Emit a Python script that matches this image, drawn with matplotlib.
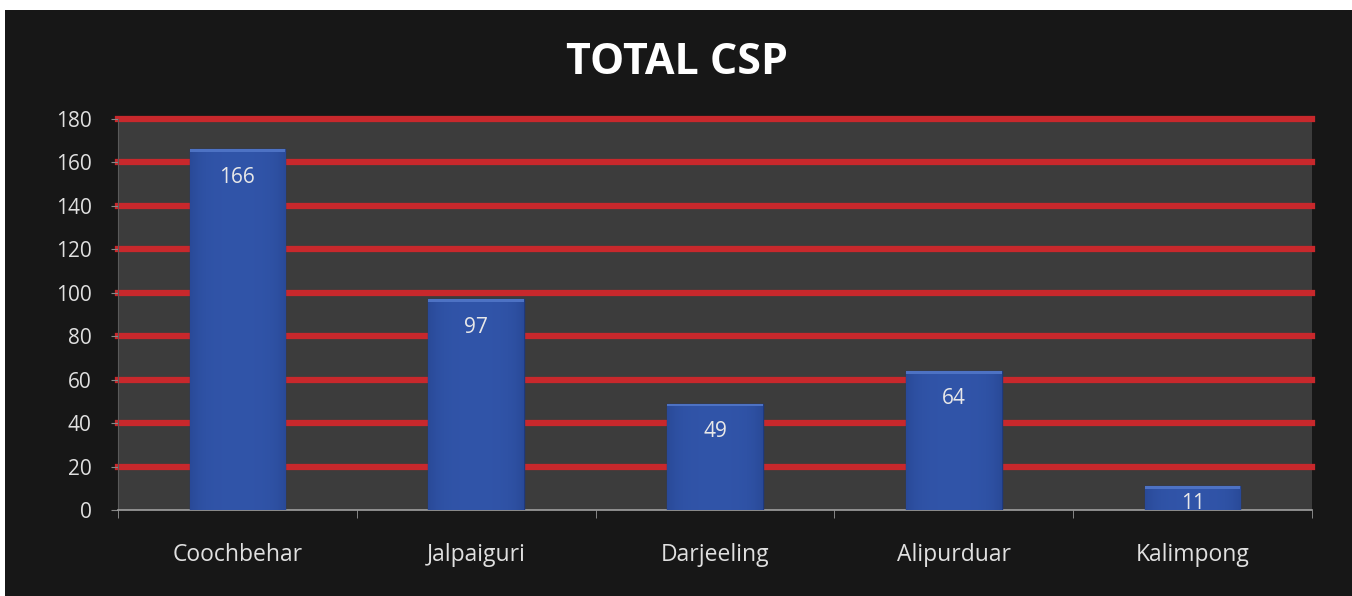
import matplotlib.pyplot as plt
from matplotlib.patches import Rectangle
import numpy as np

districts = ['Coochbehar', 'Jalpaiguri', 'Darjeeling', 'Alipurduar', 'Kalimpong']
total_csp = [166, 97, 49, 64, 11]
y_ticks = [0, 20, 40, 60, 80, 100, 120, 140, 160, 180]

plt.rcParams['font.family'] = ['Open Sans', 'DejaVu Sans']

fig = plt.figure(figsize=(13.52, 5.96), dpi=100)
fig.patch.set_facecolor('white')
# black chart area (thin white strip left and top)
fig.add_artist(Rectangle((5 / 1352, 0), 1 - 5 / 1352, 1 - 10 / 596,
                         transform=fig.transFigure, facecolor='#171717',
                         edgecolor='none', zorder=0))

ax = fig.add_axes([118 / 1352, 1 - 510 / 596, (1312 - 118) / 1352, (510 - 119) / 596])
ax.set_facecolor('#3c3c3c')

x = np.arange(len(districts))
ax.set_xlim(-0.5, len(districts) - 0.5)
ax.set_ylim(0, 180)

# red gridlines
for t in y_ticks[1:]:
    ax.axhline(t, color='#c8282c', lw=4.5, zorder=1, clip_on=False)

bars = ax.bar(x, total_csp, width=0.4, color='#2b4d9e', edgecolor='#1f3a7e',
              linewidth=1, zorder=3)

# horizontal shading inside each bar: darker sides, lighter middle
grad = np.linspace(-1, 1, 64)
shade = 1 - 0.45 * grad ** 4
dark = np.array([0.13, 0.24, 0.52])
light = np.array([0.19, 0.33, 0.66])
img = (dark[None, :] + (light - dark)[None, :] * shade[:, None])[None, :, :]
for b in bars:
    im = ax.imshow(img, extent=(b.get_x(), b.get_x() + b.get_width(), 0, b.get_height()),
                   aspect='auto', zorder=3.5, interpolation='bicubic')
    im.set_clip_path(b)
    ax.add_patch(Rectangle((b.get_x(), b.get_height() - 1.2), b.get_width(), 1.2,
                           facecolor='#4d72c4', edgecolor='none', zorder=4))
ax.set_xlim(-0.5, len(districts) - 0.5)
ax.set_ylim(0, 180)

for xi, v in zip(x, total_csp):
    ax.text(xi, v - min(8, 0.3 * v), str(v), ha='center', va='top', color='#e8e8e8',
            fontsize=15, zorder=5)

ax.set_yticks(y_ticks)
ax.set_yticklabels([str(t) for t in y_ticks], color='#e0e0e0', fontsize=15)
ax.set_xticks(x)
ax.set_xticklabels(districts, color='#e0e0e0', fontsize=16.5)
ax.tick_params(axis='x', length=0, pad=24)
ax.tick_params(axis='y', length=5, color='#888888', pad=14)
ax.set_xticks(np.arange(-0.5, len(districts)), minor=True)
ax.tick_params(axis='x', which='minor', length=6, color='#999999')

for s in ['top', 'right']:
    ax.spines[s].set_visible(False)
ax.spines['left'].set_color('#5a5a5a')
ax.spines['bottom'].set_color('#a0a0a0')
ax.spines['bottom'].set_linewidth(1.2)

fig.text(677 / 1352, 1 - 62 / 596, 'TOTAL CSP', ha='center', va='center',
         color='white', fontsize=31, fontweight='bold')

fig.savefig('out.png', dpi=100, facecolor=fig.get_facecolor())
